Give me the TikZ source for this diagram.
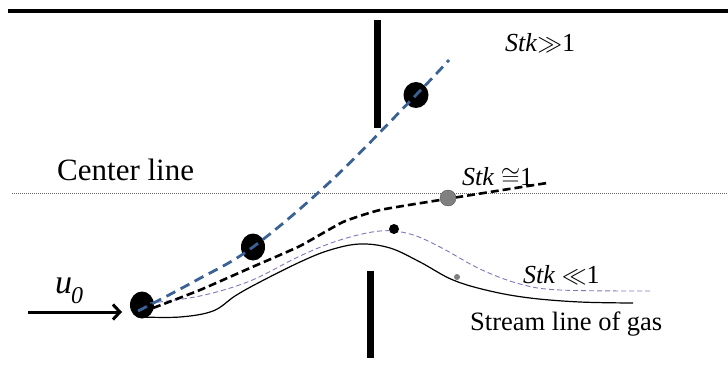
\documentclass[tikz,border=0pt]{standalone}
\usepackage{fontspec}
\setmainfont{Liberation Serif}
\newfontfamily\tnr{Liberation Serif}
\usetikzlibrary{arrows.meta,shapes.geometric}
\definecolor{stkblue}{RGB}{58,98,148}
\definecolor{stkpurple}{RGB}{135,115,185}
\definecolor{ballgray}{RGB}{128,128,128}
\begin{document}
\begin{tikzpicture}[x=1pt,y=-1pt,
  wall/.style={fill=black,draw=none},
  ball/.style={ellipse,fill=black,draw=none,inner sep=0pt,minimum width=24pt,minimum height=27pt},
  smallball/.style={circle,fill=black,inner sep=0pt,minimum size=10pt},
  grayball/.style={circle,fill=ballgray,draw=ballgray!70!black,line width=0.4pt,inner sep=0pt,minimum size=16pt},
  tinyball/.style={circle,fill=gray,inner sep=0pt,minimum size=6pt},
  bluepath/.style={stkblue,line width=2.8pt,dash pattern=on 10pt off 6pt},
  blackpath/.style={black,line width=2.6pt,dash pattern=on 8pt off 4pt},
  purplepath/.style={stkpurple,line width=0.9pt,dash pattern=on 5pt off 3pt},
  gaspath/.style={black,line width=1.2pt},
  lbl/.style={anchor=base west,inner sep=0pt,font=\tnr\fontsize{26}{30}\selectfont}
]
\useasboundingbox (0,0) rectangle (728,378);
% top wall
\draw[line width=4pt] (8,11) -- (728,11);
% center line
\draw[gray!80!black,line width=0.8pt,dash pattern=on 1pt off 1pt] (12,193) -- (728,193);
\node[anchor=base west,inner sep=0pt,font=\tnr\fontsize{31}{36}\selectfont] (cl) at (57,180) {Center line};
% walls
\fill[wall] (374,20) rectangle (381,128);
\fill[wall] (367,271) rectangle (374,358);
% particles
\node[ball] (p0) at (142,305) {};
\node[ball] (p1) at (253,247) {};
\node[ball,minimum width=25pt,minimum height=26pt] (p2) at (416,95) {};
% trajectories
\draw[gaspath] plot[smooth,tension=0.6] coordinates {(142,317) (180,317) (213,311) (235,296) (258,283) (300,262) (330,250) (360,244) (390,248) (420,262) (453,280) (490,291) (530,298) (580,302) (633,303)};
\draw[purplepath] plot[smooth,tension=0.6] coordinates {(150,303) (200,296) (250,281) (300,256) (340,240) (380,231) (410,234) (440,247) (480,269) (520,284) (560,290) (652,291)};
\draw[blackpath] plot[smooth,tension=0.3] coordinates {(153,308) (200,290) (250,268) (300,246) (343,222) (380,210) (440,200) (490,192) (547,183)};
\draw[bluepath] plot[smooth,tension=0.6] coordinates {(138,311) (195,281) (253,247) (332,180) (416,95) (449,60)};
\node[smallball] (p3) at (394,229) {};
\node[grayball] (p4) at (448,198) {};
\node[tinyball] (p5) at (457,277) {};
% labels
\node[lbl] (s1) at (505,51) {\textit{Stk}$\gg$1};
\node[lbl] (s2) at (462,185) {\textit{Stk} $\cong$1};
\node[lbl] (s3) at (523,283) {\textit{Stk} $\ll$1};
\node[lbl,font=\tnr\fontsize{26.5}{30}\selectfont] (gas) at (470,330) {Stream line of gas};
% inflow
\coordinate (a0) at (28,312);
\coordinate (a1) at (122,312);
\draw[line width=3pt,-{Straight Barb[length=7pt,width=15pt]}] (a0) -- (a1);
\node[anchor=base west,inner sep=0pt,font=\tnr\fontsize{34}{40}\selectfont\itshape] (u0) at (55,293) {u\kern-1pt\raisebox{-10pt}{\fontsize{24}{28}\selectfont 0}};
\end{tikzpicture}
\end{document}
